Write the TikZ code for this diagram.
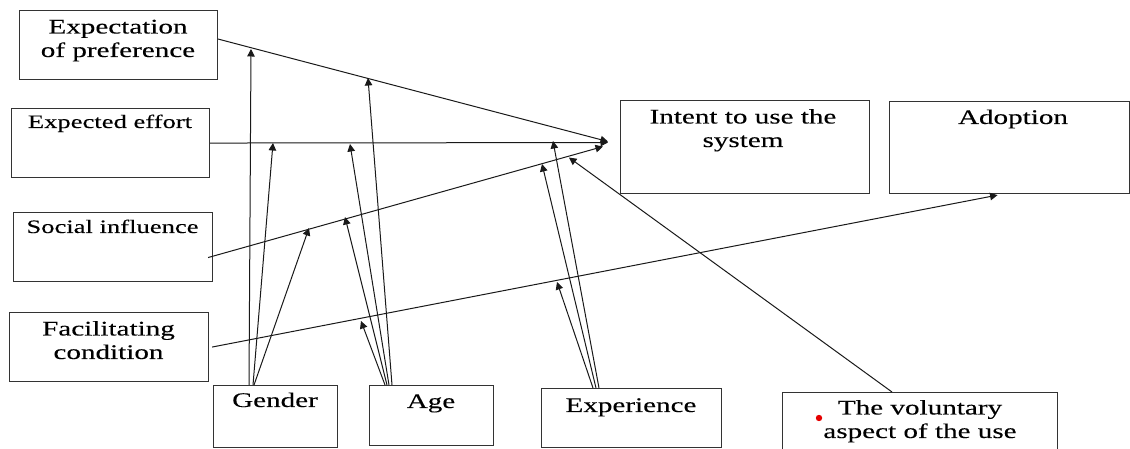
\documentclass[tikz,border=0pt]{standalone}
\usepackage{fontspec}
\setmainfont{Liberation Serif}[FakeStretch=1.4, FakeBold=0.12]
\usetikzlibrary{arrows.meta}

\tikzset{
  box/.style={draw=black!80, line width=1.1bp, rectangle, inner sep=0pt, anchor=north west},
  bigtxt/.style={font=\fontsize{20.8bp}{23.5bp}\selectfont, align=center, inner sep=0pt, anchor=base},
  smalltxt/.style={font=\fontsize{19bp}{22bp}\selectfont, align=center, inner sep=0pt, anchor=base},
  arr/.style={draw=black!90, line width=1bp, -{Triangle[length=7.5bp,width=7.5bp]}},
}

\begin{document}
\begin{tikzpicture}[x=1bp, y=-1bp]
\useasboundingbox (0,0) rectangle (1130,449);
\clip (0,0) rectangle (1130,449);

% construct boxes
\node[box, minimum width=198bp, minimum height=69bp] (pe) at (19,10) {};
\node[box, minimum width=198bp, minimum height=69bp] (ee) at (11,108) {};
\node[box, minimum width=199bp, minimum height=69bp] (si) at (13,212) {};
\node[box, minimum width=199bp, minimum height=69bp] (fc) at (9,312) {};
\node[box, minimum width=249bp, minimum height=93bp] (it) at (620,100) {};
\node[box, minimum width=240bp, minimum height=92bp] (ad) at (889,101) {};
% moderator boxes
\node[box, minimum width=124bp, minimum height=62bp] (ge) at (213,385) {};
\node[box, minimum width=124bp, minimum height=60bp] (ag) at (369,385) {};
\node[box, minimum width=180bp, minimum height=59bp] (ex) at (541,388) {};
\node[box, minimum width=275bp, minimum height=90bp] (vo) at (782,392) {};

% labels
\node[bigtxt] (pe-t) at (118,57) {Expectation\\of preference};
\node[smalltxt] (ee-t) at (110,128) {Expected effort};
\node[smalltxt] (si-t) at (112.5,233) {Social influence};
\node[bigtxt] (fc-t) at (108.5,359) {Facilitating\\condition};
\node[bigtxt] (it-t) at (743,147) {Intent to use the\\system};
\node[bigtxt] (ad-t) at (1013,124) {Adoption};
\node[bigtxt] (ge-t) at (275,407) {Gender};
\node[bigtxt] (ag-t) at (431,408) {Age};
\node[bigtxt] (ex-t) at (631,412) {Experience};
\node[bigtxt] (vo-t) at (920,438) {The voluntary\\aspect of the use};
\fill[red!90!black] (819,418) circle (3.2bp);

% points where moderator arrows meet the main paths
\coordinate (g1) at (251,49);
\coordinate (g2) at (273,143);
\coordinate (g3) at (309,228);
\coordinate (a1) at (368,78);
\coordinate (a2) at (350,144);
\coordinate (a3) at (345,217);
\coordinate (a4) at (361,321);
\coordinate (e1) at (553,141);
\coordinate (e2) at (542,164);
\coordinate (e3) at (557,282);

% ends of the main paths near the intent box
\coordinate (itA) at ([xshift=-12bp,yshift=5.5bp]it.west);
\coordinate (itB) at ([xshift=-12bp,yshift=4.5bp]it.west);
\coordinate (itC) at ([xshift=-17bp,yshift=0.5bp]it.west);
\coordinate (itD) at ([xshift=-51bp,yshift=-10.5bp]it.west);
\coordinate (adA) at ([xshift=-12bp,yshift=-1bp]ad.south);

% main paths
\draw[arr] ([yshift=6bp]pe.east) -- (itA);
\draw[arr] (ee.east) -- (itB);
\draw[arr] ([xshift=-5bp,yshift=-10.5bp]si.east) -- (itC);
\draw[arr] ([xshift=3bp]fc.east) -- (adA);
\draw[arr] ([xshift=110bp]vo.north west) -- (itD);

% gender
\draw[arr] ([xshift=36bp]ge.north west) -- (g1);
\draw[arr] ([xshift=40bp]ge.north west) -- (g2);
\draw[arr] ([xshift=41bp]ge.north west) -- (g3);
% age
\draw[arr] ([xshift=23bp]ag.north west) -- (a1);
\draw[arr] ([xshift=20bp]ag.north west) -- (a2);
\draw[arr] ([xshift=18bp]ag.north west) -- (a3);
\draw[arr] ([xshift=16bp]ag.north west) -- (a4);
% experience
\draw[arr] ([xshift=58bp]ex.north west) -- (e1);
\draw[arr] ([xshift=55bp]ex.north west) -- (e2);
\draw[arr] ([xshift=52bp]ex.north west) -- (e3);
\end{tikzpicture}
\end{document}
